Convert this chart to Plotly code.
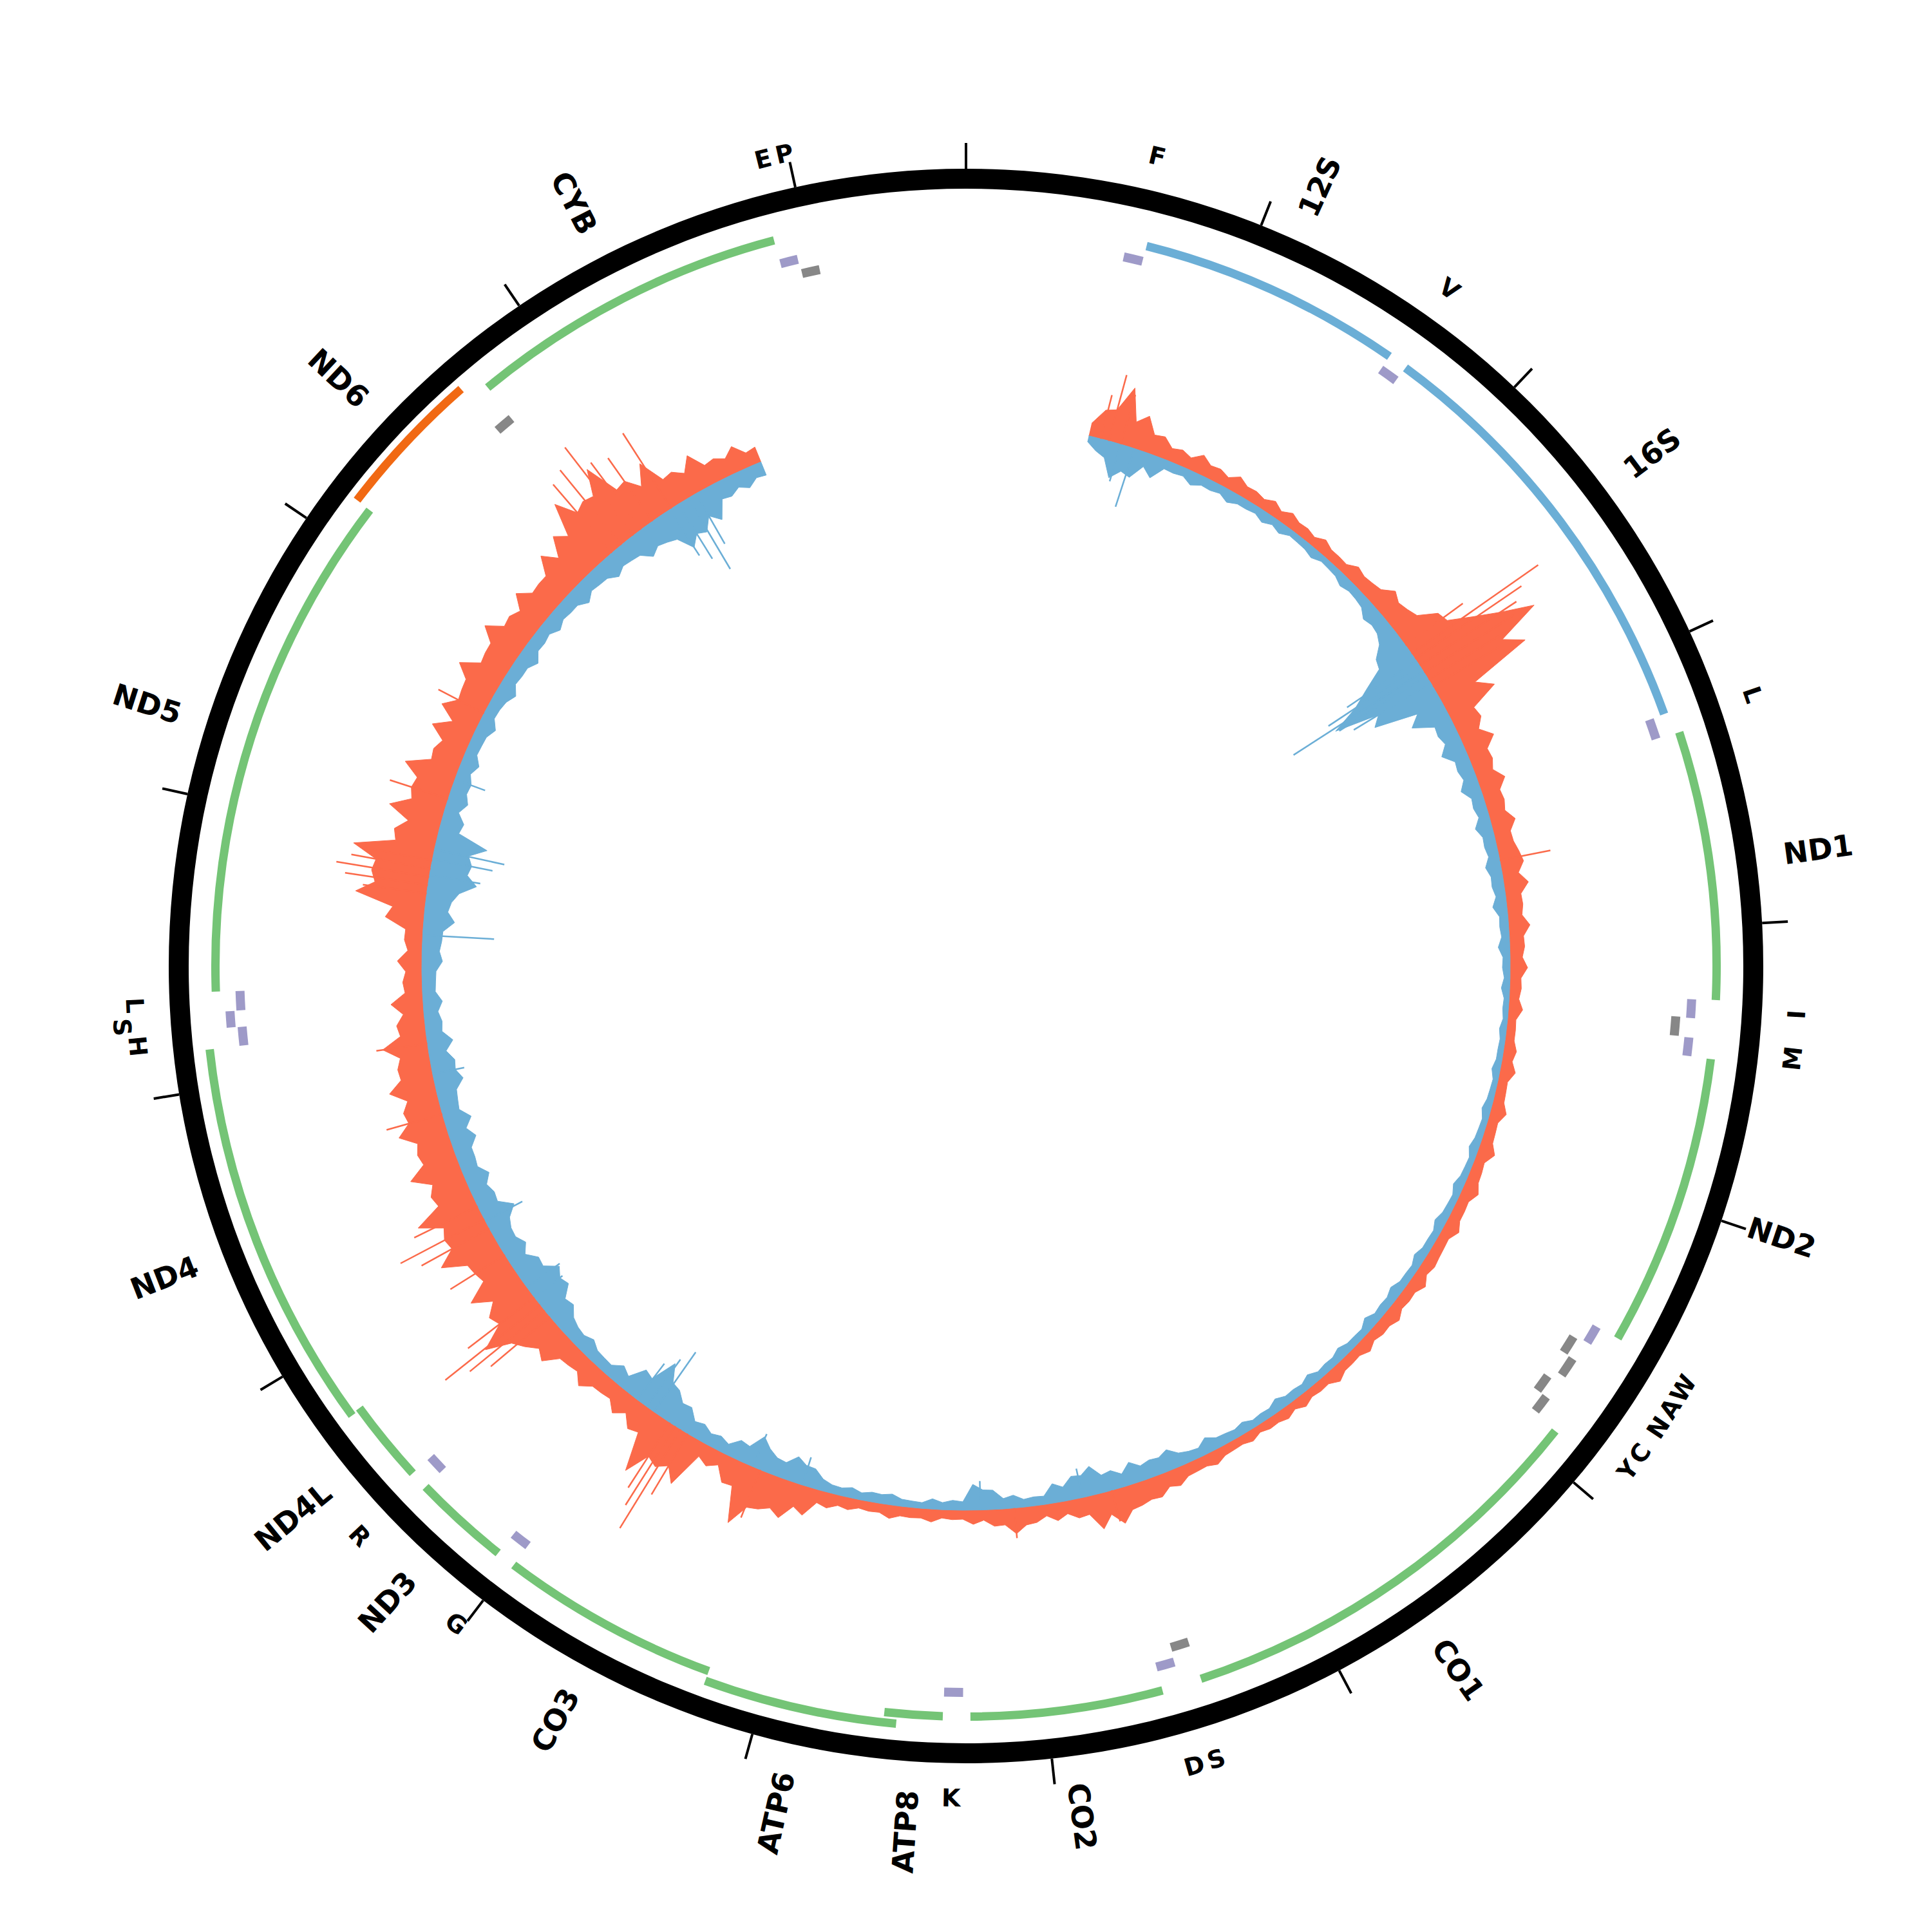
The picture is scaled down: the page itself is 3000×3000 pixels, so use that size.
import math
import plotly.graph_objects as go

GENOME_LEN = 16569

# ---------------- data ----------------
# protein-coding genes on the H strand (green)
gene_names = ["ND1", "ND2", "CO1", "CO2", "ATP8", "ATP6", "CO3", "ND3", "ND4L", "ND4", "ND5", "CYB"]
gene_starts = [3307, 4470, 5904, 7586, 8366, 8527, 9207, 10059, 10470, 10760, 12337, 14747]
gene_ends = [4262, 5511, 7445, 8269, 8572, 9207, 9990, 10404, 10766, 12137, 14148, 15887]

# L-strand protein gene (orange)
lgene_names = ["ND6"]
lgene_starts = [14149]
lgene_ends = [14673]

# rRNA genes (blue)
rrna_names = ["12S", "16S"]
rrna_starts = [648, 1671]
rrna_ends = [1601, 3229]

# tRNA genes (labels as printed in the figure, "" = no label)
trna_labels = ["F", "V", "L", "I", "", "M", "W", "A", "N", "C", "Y", "S", "D", "K",
               "G", "R", "H", "S", "L", "", "E", "P"]
trna_starts = [577, 1602, 3230, 4263, 4329, 4402, 5512, 5587, 5657, 5761, 5826, 7446, 7518, 8295,
               9991, 10405, 12138, 12207, 12266, 14674, 15888, 15956]
trna_ends = [647, 1670, 3304, 4331, 4400, 4469, 5579, 5655, 5729, 5826, 5891, 7514, 7585, 8364,
             10058, 10469, 12206, 12265, 12336, 14742, 15953, 16023]
trna_strand = ["H", "H", "H", "H", "L", "H", "H", "L", "L", "L", "L", "L", "H", "H",
               "H", "H", "H", "H", "H", "L", "H", "L"]

# coverage, dense level every 100 bp from 600 to 15500: outward (red) and inward (blue)
cov_pos = list(range(600, 15501, 100))
red_cov = [
    20, 50, 40, 30, 20, 18, 20, 16, 18, 15,
    14, 16, 13, 15, 14, 20, 25, 32, 42, 75,
    150, 130, 60, 40, 32, 32, 28, 28, 26, 26,
    32, 25, 24, 22, 22, 19, 17, 15, 13, 14,
    16, 15, 17, 16, 18, 16, 19, 17, 18, 16,
    18, 16, 17, 16, 18, 15, 15, 16, 14, 13,
    12, 14, 11, 13, 15, 17, 19, 23, 32, 38,
    36, 28, 20, 18, 28, 25, 16, 14, 13, 15,
    15, 14, 13, 16, 20, 36, 50, 62, 40, 20,
    22, 58, 62, 40, 27, 25, 28, 27, 32, 45,
    72, 68, 55, 50, 58, 66, 62, 55, 50, 52,
    50, 54, 47, 50, 45, 40, 32, 27, 25, 22,
    27, 50, 82, 86, 62, 50, 54, 56, 45, 40,
    38, 45, 50, 43, 47, 45, 40, 43, 45, 50,
    64, 82, 86, 72, 54, 45, 36, 32, 27, 22,
]
blue_cov = [
    9, 27, 40, 22, 14, 13, 14, 12, 13, 11,
    11, 9, 11, 9, 11, 13, 16, 22, 32, 55,
    120, 95, 42, 28, 25, 22, 20, 18, 16, 18,
    16, 18, 15, 13, 12, 11, 9, 8, 7, 8,
    9, 8, 10, 9, 11, 9, 11, 10, 12, 11,
    12, 11, 12, 13, 12, 11, 12, 12, 11, 12,
    13, 12, 11, 13, 16, 14, 20, 25, 23, 20,
    27, 34, 22, 13, 12, 16, 31, 13, 11, 9,
    11, 14, 11, 12, 18, 31, 25, 36, 27, 16,
    18, 22, 36, 54, 40, 20, 16, 18, 20, 27,
    36, 50, 40, 27, 29, 36, 31, 27, 25, 27,
    29, 27, 31, 36, 27, 25, 22, 20, 22, 27,
    31, 36, 50, 58, 54, 31, 22, 25, 20, 18,
    20, 18, 22, 20, 22, 20, 18, 20, 22, 22,
    25, 27, 31, 36, 45, 54, 40, 27, 22, 20,
]
# local peak inside each 100 bp bin (650, 750, ..., 15550)
red_peak = [
    45, 90, 55, 33, 24, 30, 22, 26, 19, 22,
    22, 17, 21, 15, 24, 22, 40, 36, 70, 110,
    200, 160, 85, 44, 50, 34, 42, 30, 38, 27,
    36, 38, 25, 33, 23, 27, 18, 22, 14, 20,
    24, 16, 25, 17, 27, 18, 26, 18, 25, 17,
    20, 25, 18, 24, 19, 22, 16, 23, 15, 19,
    18, 15, 17, 14, 22, 18, 28, 34, 36, 55,
    55, 30, 28, 26, 40, 26, 22, 15, 20, 16,
    21, 15, 19, 24, 45, 60, 58, 95, 42, 30,
    80, 70, 100, 45, 40, 27, 42, 30, 55, 60,
    110, 75, 85, 55, 95, 70, 98, 60, 80, 56,
    75, 58, 72, 52, 70, 44, 50, 30, 38, 28,
    60, 110, 90, 125, 68, 85, 60, 82, 48, 65,
    65, 48, 72, 46, 70, 48, 62, 45, 72, 80,
    115, 90, 125, 76, 85, 48, 58, 35, 40, 25,
]
blue_peak = [
    20, 55, 45, 35, 15, 21, 15, 19, 13, 17,
    16, 10, 15, 10, 17, 14, 26, 24, 50, 90,
    165, 110, 60, 30, 38, 24, 30, 20, 26, 19,
    24, 19, 22, 14, 18, 12, 13, 9, 11, 9,
    13, 9, 14, 10, 15, 10, 16, 11, 17, 12,
    17, 12, 18, 14, 19, 12, 17, 13, 18, 14,
    19, 13, 17, 15, 24, 16, 32, 27, 34, 30,
    45, 36, 30, 14, 20, 30, 40, 15, 16, 10,
    17, 15, 16, 13, 30, 40, 27, 50, 30, 22,
    26, 38, 50, 80, 45, 28, 17, 26, 22, 40,
    55, 60, 42, 38, 30, 52, 33, 38, 27, 40,
    42, 29, 45, 38, 40, 27, 30, 21, 32, 30,
    48, 40, 75, 62, 80, 35, 32, 27, 28, 19,
    28, 19, 30, 22, 31, 21, 27, 22, 32, 24,
    35, 29, 45, 40, 70, 60, 55, 30, 30, 22,
]

# isolated coverage peaks
red_spike_pos = [660, 700, 760, 2480, 2530, 2560, 2600, 2640, 2680, 2720, 3627, 7570, 8050,
                 9306, 9700, 9740, 9770, 9800, 10580, 10620, 10655, 10700, 10950, 11100, 11150,
                 11220, 11700, 12050, 12780, 12820, 12860, 12900, 12940, 13250, 13700, 14700,
                 14760, 14833, 14880, 14950, 15060]
red_spike_len = [70, 106, 80, 110, 240, 200, 180, 165, 150, 120, 80, 50, 47,
                 80, 110, 180, 145, 120, 120, 150, 188, 130, 100, 120, 147,
                 110, 90, 80, 100, 130, 146, 125, 115, 95, 80, 140,
                 150, 173, 130, 120, 139]
blue_spike_pos = [760, 830, 2570, 2600, 2633, 2660, 2700, 7715, 8214, 9090, 9346, 9895, 9940,
                  9996, 10700, 10760, 11140, 11900, 12577, 12870, 12950, 12997, 13350, 15050,
                  15100, 15156, 15200]
blue_spike_len = [60, 95, 130, 170, 240, 160, 140, 46, 45, 45, 55, 113, 90,
                  70, 55, 63, 65, 50, 111, 80, 95, 111, 50, 85,
                  100, 128, 90]

tick_positions = list(range(0, 16001, 1000))

# ---------------- style ----------------
C_RED = "#fb6a4a"
C_BLUE = "#6baed6"
C_GREEN = "#74c476"
C_PURPLE = "#9e9ac8"
C_GRAY = "#878787"
C_ORANGE = "#f16913"

R_COV = 845
RING_BASE, RING_W = 1207, 31
TICK_IN, TICK_OUT = 1238, 1278
GENE_BASE, GENE_W, LEVEL_STEP = 1159, 13, 16
RRNA_BASE = 1146
LGENE_BASE = 1184
TRNA_H_BASE, TRNA_L_BASE, TRNA_W, TRNA_STEP = 1121, 1098, 14, 17
GENE_LABEL_R0 = 1281
TRNA_LABEL_R = 1292
TRNA_LABEL_SHIFT = {12207: 22}   # label pushed outward to avoid its neighbours
GENE_FONT = 46
TRNA_FONT = 38
FONT = "DejaVu Sans"

CHAR_W = {"A": .774, "B": .762, "C": .734, "D": .830, "E": .683, "F": .683, "G": .821,
          "H": .837, "I": .372, "K": .775, "L": .637, "M": .995, "N": .837, "O": .850,
          "P": .733, "R": .770, "S": .720, "T": .682, "V": .774, "W": 1.103, "Y": .724}


def ang(bp):
    return bp * 360.0 / GENOME_LEN


def text_len(s, size):
    return sum(CHAR_W.get(c, 0.696) for c in s) * size


def stack_levels(starts, ends, pad=10):
    order = sorted(range(len(starts)), key=lambda i: starts[i])
    level_end = []
    levels = [0] * len(starts)
    for i in order:
        lv = 0
        while lv < len(level_end) and starts[i] <= level_end[lv] + pad:
            lv += 1
        if lv == len(level_end):
            level_end.append(ends[i])
        else:
            level_end[lv] = ends[i]
        levels[i] = lv
    return levels


def arc_bars(starts, ends, bases, thick, color):
    return go.Barpolar(
        theta=[ang((s + e) / 2) for s, e in zip(starts, ends)],
        width=[ang(e - s) for s, e in zip(starts, ends)],
        base=bases,
        r=[thick] * len(starts),
        marker=dict(color=color, line=dict(width=0)),
        hoverinfo="skip",
    )


fig = go.Figure()

# invisible cartesian helper (for rotated text)
fig.add_trace(go.Scatter(x=[-1500, 1500], y=[-1500, 1500], mode="markers",
                         marker=dict(opacity=0), hoverinfo="skip", showlegend=False))


# coverage polygons (dense level alternating with the in-bin peak)
def coverage_outline(level, peak, sign):
    t, r = [], []
    for p, v, pk in zip(cov_pos, level, peak):
        t += [ang(p), ang(p + 50)]
        r += [R_COV + sign * v, R_COV + sign * pk]
    t_back = [ang(cov_pos[-1] + 50)] + [ang(p) for p in cov_pos[::-1]]
    return t + t_back, r + [R_COV] * len(t_back)


for level, peak, sign, col in ((red_cov, red_peak, 1, C_RED), (blue_cov, blue_peak, -1, C_BLUE)):
    t, r = coverage_outline(level, peak, sign)
    fig.add_trace(go.Scatterpolar(theta=t, r=r, mode="lines", fill="toself", fillcolor=col,
                                  line=dict(color=col, width=1), hoverinfo="skip"))

# coverage isolated peaks
for pos, lens, sign, col in ((red_spike_pos, red_spike_len, 1, C_RED),
                             (blue_spike_pos, blue_spike_len, -1, C_BLUE)):
    sp_t, sp_r = [], []
    for p, v in zip(pos, lens):
        sp_t += [ang(p), ang(p), None]
        sp_r += [R_COV, R_COV + sign * v, None]
    fig.add_trace(go.Scatterpolar(theta=sp_t, r=sp_r, mode="lines",
                                  line=dict(color=col, width=2.5), hoverinfo="skip"))

# outer ring
fig.add_trace(go.Barpolar(theta=[90, 270], width=[180, 180], base=[RING_BASE, RING_BASE],
                          r=[RING_W, RING_W], marker=dict(color="black", line=dict(width=0)),
                          hoverinfo="skip"))

# ticks
tk_t, tk_r = [], []
for p in tick_positions:
    tk_t += [ang(p), ang(p), None]
    tk_r += [TICK_IN, TICK_OUT, None]
fig.add_trace(go.Scatterpolar(theta=tk_t, r=tk_r, mode="lines",
                              line=dict(color="black", width=4), hoverinfo="skip"))

# gene tracks
glev = stack_levels(gene_starts, gene_ends)
fig.add_trace(arc_bars(gene_starts, gene_ends, [GENE_BASE + LEVEL_STEP * l for l in glev],
                       GENE_W, C_GREEN))
fig.add_trace(arc_bars(rrna_starts, rrna_ends, [RRNA_BASE] * len(rrna_starts), GENE_W, C_BLUE))
fig.add_trace(arc_bars(lgene_starts, lgene_ends, [LGENE_BASE] * len(lgene_starts), GENE_W, C_ORANGE))

for strand, base, col in (("H", TRNA_H_BASE, C_PURPLE), ("L", TRNA_L_BASE, C_GRAY)):
    idx = [i for i, s in enumerate(trna_strand) if s == strand]
    st = [trna_starts[i] for i in idx]
    en = [trna_ends[i] for i in idx]
    lv = stack_levels(st, en)
    fig.add_trace(arc_bars(st, en, [base + TRNA_STEP * l for l in lv], TRNA_W, col))

# labels
annotations = []
all_gene_names = gene_names + lgene_names + rrna_names
all_gene_mids = [(s + e) / 2 for s, e in zip(gene_starts + lgene_starts + rrna_starts,
                                              gene_ends + lgene_ends + rrna_ends)]
for name, mid in zip(all_gene_names, all_gene_mids):
    a = ang(mid)
    r = GENE_LABEL_R0 + text_len(name, GENE_FONT) / 2
    rad = math.radians(a)
    tangle = a - 90 if a < 180 else a - 270
    annotations.append(dict(x=r * math.sin(rad), y=r * math.cos(rad), xref="x", yref="y",
                            text=name, showarrow=False, textangle=tangle,
                            xanchor="center", yanchor="middle",
                            font=dict(family=FONT, size=GENE_FONT, color="black", weight="bold")))

for lab, s, e in zip(trna_labels, trna_starts, trna_ends):
    if not lab:
        continue
    a = ang((s + e) / 2)
    rad = math.radians(a)
    r = TRNA_LABEL_R + TRNA_LABEL_SHIFT.get(s, 0)
    if a <= 90:
        tangle = a
    elif a < 270:
        tangle = a - 180
    else:
        tangle = a - 360
    annotations.append(dict(x=r * math.sin(rad), y=r * math.cos(rad),
                            xref="x", yref="y", text=lab, showarrow=False, textangle=tangle,
                            xanchor="center", yanchor="middle",
                            font=dict(family=FONT, size=TRNA_FONT, color="black", weight="bold")))

fig.update_layout(
    width=3000, height=3000, autosize=False,
    margin=dict(l=0, r=0, t=0, b=0, pad=0),
    paper_bgcolor="white", plot_bgcolor="white", showlegend=False,
    polar=dict(
        domain=dict(x=[0, 1], y=[0, 1]), bgcolor="rgba(0,0,0,0)", barmode="overlay",
        radialaxis=dict(range=[0, 1500], visible=False),
        angularaxis=dict(rotation=90, direction="clockwise", visible=False),
    ),
    xaxis=dict(range=[-1500, 1500], visible=False, domain=[0, 1], fixedrange=True),
    yaxis=dict(range=[-1500, 1500], visible=False, domain=[0, 1], fixedrange=True),
    annotations=annotations,
)

fig.write_html("out.html", config={"displayModeBar": False},
               post_script="document.body.style.margin='0px';")
